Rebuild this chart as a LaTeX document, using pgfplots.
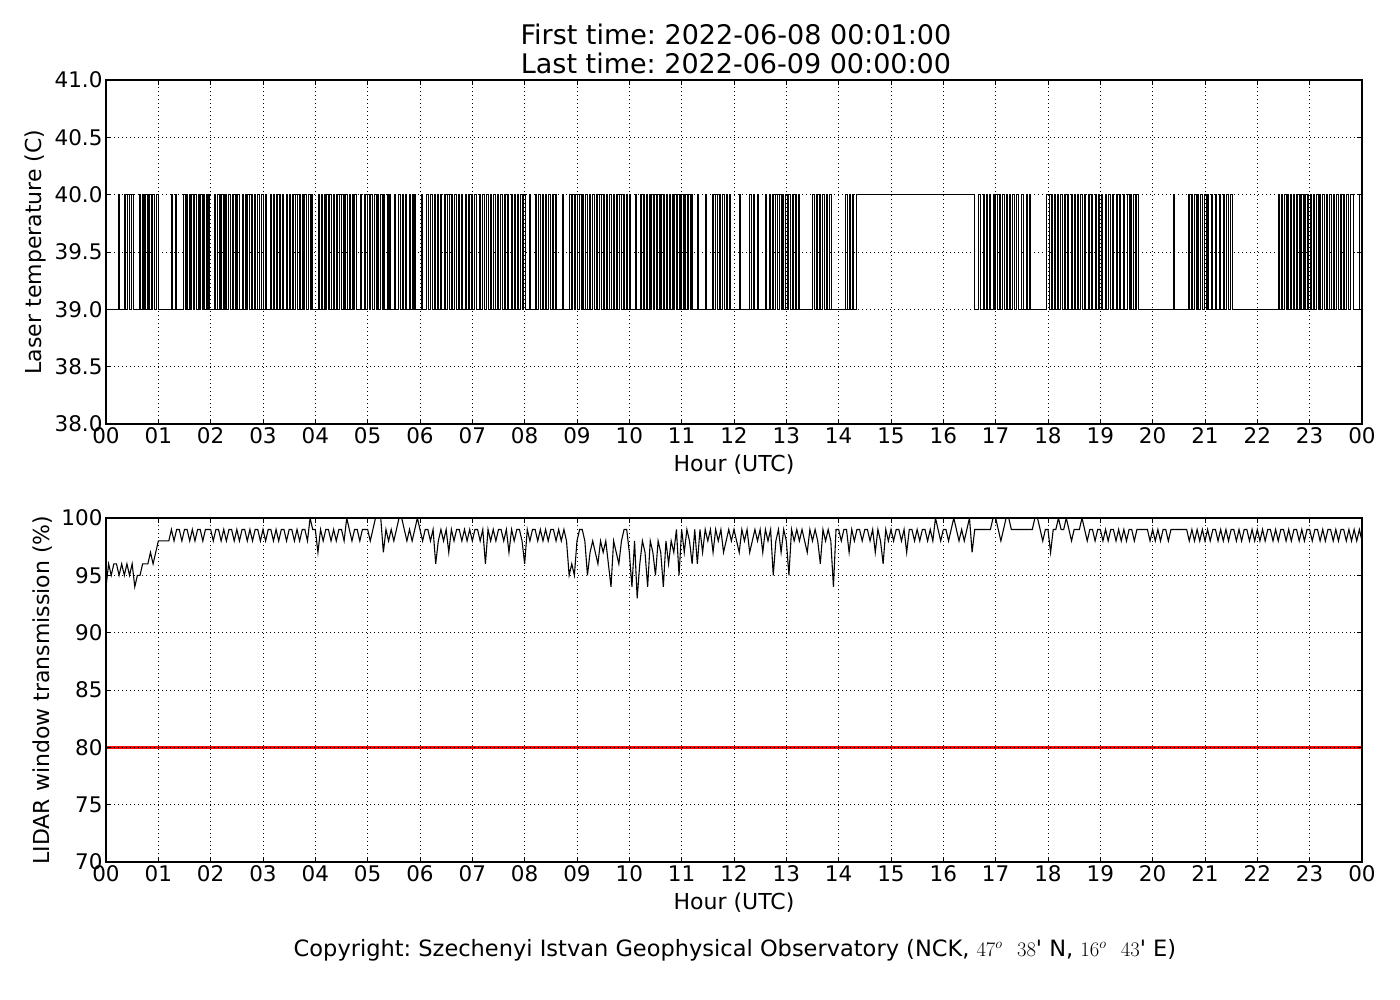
\documentclass[border=0pt]{standalone}
\usepackage[no-math]{fontspec}
\setmainfont{DejaVu Sans}
\usepackage{pgfplots}
\pgfplotsset{compat=1.18}
\frenchspacing

\pgfplotsset{
  panel/.style={
    scale only axis, width=1256bp, height=344bp,
    xmin=0, xmax=24,
    xtick={0,1,2,3,4,5,6,7,8,9,10,11,12,13,14,15,16,17,18,19,20,21,22,23,24},
    xticklabels={00,01,02,03,04,05,06,07,08,09,10,11,12,13,14,15,16,17,18,19,20,21,22,23,00},
    tick align=inside,
    major tick length=5bp,
    tick style={black, line width=0.9bp},
    axis line style={line width=1.2bp},
    grid=major,
    major grid style={black, line width=0.8bp, dash pattern=on 1bp off 3bp},
    tick label style={font=\fontsize{21.5bp}{25bp}\selectfont},
    label style={font=\fontsize{22bp}{26bp}\selectfont},
    xlabel={Hour (UTC)},
    xlabel style={at={(axis description cs:0.5,0)}, anchor=center, yshift=-41bp},
  }
}

\begin{document}
\begin{tikzpicture}
\path[use as bounding box] (0,0) rectangle (1400bp,-1000bp);

\node[font=\fontsize{27bp}{31bp}\selectfont] at (736bp,-34bp) {First time: 2022-06-08 00:01:00};
\node[font=\fontsize{27bp}{31bp}\selectfont] at (736bp,-63bp) {Last time: 2022-06-09 00:00:00};

\begin{axis}[panel,
  at={(106bp,-424bp)}, anchor=south west,
  ymin=38, ymax=41,
  ytick={38,38.5,39,39.5,40,40.5,41},
  yticklabels={38.0,38.5,39.0,39.5,40.0,40.5,41.0},
  ylabel={Laser temperature (C)},
  ylabel style={at={(axis description cs:-0.0565,0.5)}, anchor=center},
]
\addplot[black, line width=1bp, const plot mark left] coordinates {
(0,39)
(0.235,40)(0.25,39)(0.35,40)(0.37,39)(0.42,40)(0.44,39)(0.49,40)(0.52,39)(0.64,40)(0.66,39)(0.69,40)(0.71,39)(0.74,40)(0.76,39)(0.79,40)(0.82,39)(0.84,40)(0.86,39)(0.89,40)(0.92,39)(0.96,40)(1.0,39)
(1.25,40)(1.27,39)(1.33,40)(1.35,39)(1.48,40)(1.51,39)(1.54,40)(1.56,39)(1.59,40)(1.61,39)(1.64,40)(1.68,39)(1.70,40)(1.72,39)(1.76,40)(1.78,39)(1.81,40)(1.84,39)(1.87,40)(1.89,39)(1.92,40)(1.94,39)(1.96,40)(1.98,39)
(2.08,40)(2.10,39)(2.14,40)(2.16,39)(2.18,40)(2.20,39)(2.24,40)(2.26,39)(2.29,40)(2.31,39)(2.34,40)(2.38,39)(2.42,40)(2.44,39)(2.47,40)(2.49,39)(2.52,40)(2.56,39)(2.60,40)(2.62,39)(2.66,40)(2.68,39)(2.71,40)(2.74,39)(2.78,40)(2.80,39)(2.84,40)(2.86,39)(2.89,40)(2.93,39)(2.97,40)(3.01,39)(3.04,40)(3.06,39)
(3.15,40)(3.17,39)(3.20,40)(3.22,39)(3.26,40)(3.28,39)(3.31,40)(3.34,39)(3.38,40)(3.40,39)(3.44,40)(3.46,39)(3.50,40)(3.53,39)(3.56,40)(3.58,39)(3.62,40)(3.65,39)(3.69,40)(3.71,39)(3.75,40)(3.77,39)(3.80,40)(3.83,39)(3.87,40)(3.90,39)(3.92,40)(3.95,39)
(4.06,40)(4.08,39)(4.11,40)(4.13,39)(4.17,40)(4.19,39)(4.22,40)(4.25,39)(4.28,40)(4.30,39)(4.34,40)(4.37,39)(4.41,40)(4.43,39)(4.47,40)(4.50,39)(4.53,40)(4.55,39)(4.58,40)(4.61,39)(4.65,40)(4.67,39)(4.71,40)(4.73,39)(4.75,40)(4.78,39)(4.86,40)(4.88,39)(4.93,40)(4.96,39)
(5.00,40)(5.03,39)(5.06,40)(5.09,39)(5.13,40)(5.16,39)(5.19,40)(5.21,39)(5.25,40)(5.28,39)(5.31,40)(5.33,39)(5.37,40)(5.40,39)(5.42,40)(5.44,39)(5.52,40)(5.54,39)(5.59,40)(5.62,39)(5.66,40)(5.68,39)(5.72,40)(5.75,39)(5.79,40)(5.81,39)(5.85,40)(5.88,39)(5.90,40)(5.92,39)
(6.03,40)(6.05,39)(6.13,40)(6.16,39)(6.20,40)(6.23,39)(6.27,40)(6.29,39)(6.33,40)(6.36,39)(6.40,40)(6.42,39)(6.47,40)(6.49,39)(6.53,40)(6.56,39)(6.60,40)(6.62,39)(6.66,40)(6.69,39)(6.73,40)(6.76,39)(6.80,40)(6.82,39)(6.86,40)(6.89,39)(6.93,40)(6.95,39)(6.98,40)(7.01,39)
(7.05,40)(7.08,39)(7.14,40)(7.16,39)(7.20,40)(7.23,39)(7.27,40)(7.30,39)(7.35,40)(7.37,39)(7.41,40)(7.44,39)(7.48,40)(7.50,39)(7.54,40)(7.57,39)(7.61,40)(7.63,39)(7.67,40)(7.70,39)(7.74,40)(7.77,39)(7.80,40)(7.82,39)(7.86,40)(7.89,39)(7.93,40)(7.95,39)(7.98,40)(8.02,39)
(8.10,40)(8.12,39)(8.20,40)(8.23,39)(8.27,40)(8.30,39)(8.34,40)(8.36,39)(8.40,40)(8.42,39)(8.46,40)(8.49,39)(8.53,40)(8.55,39)(8.58,40)(8.61,39)(8.72,40)(8.74,39)(8.86,40)(8.89,39)(8.92,40)(8.95,39)(8.98,40)(9.01,39)
(9.05,40)(9.08,39)(9.11,40)(9.13,39)(9.17,40)(9.20,39)(9.24,40)(9.26,39)(9.30,40)(9.33,39)(9.37,40)(9.39,39)(9.43,40)(9.46,39)(9.50,40)(9.52,39)(9.56,40)(9.59,39)(9.63,40)(9.65,39)(9.69,40)(9.72,39)(9.76,40)(9.78,39)(9.82,40)(9.85,39)(9.88,40)(9.90,39)(9.94,40)(9.97,39)
(10.00,40)(10.03,39)(10.12,40)(10.14,39)(10.21,40)(10.24,39)(10.27,40)(10.29,39)(10.32,40)(10.35,39)(10.38,40)(10.40,39)(10.43,40)(10.46,39)(10.49,40)(10.51,39)(10.54,40)(10.57,39)(10.60,40)(10.62,39)(10.65,40)(10.68,39)(10.71,40)(10.73,39)(10.76,40)(10.79,39)(10.82,40)(10.84,39)(10.87,40)(10.90,39)(10.93,40)(10.95,39)(10.97,40)(11.00,39)
(11.03,40)(11.05,39)(11.08,40)(11.11,39)(11.14,40)(11.16,39)(11.19,40)(11.21,39)(11.30,40)(11.32,39)(11.45,40)(11.47,39)(11.58,40)(11.61,39)(11.65,40)(11.68,39)(11.72,40)(11.74,39)(11.78,40)(11.81,39)(11.85,40)(11.87,39)(11.91,40)(11.94,39)(12.10,40)(12.12,39)
(12.30,40)(12.33,39)(12.37,40)(12.40,39)(12.44,40)(12.46,39)(12.60,40)(12.63,39)(12.67,40)(12.70,39)(12.74,40)(12.76,39)(12.80,40)(12.83,39)(12.87,40)(12.90,39)(12.93,40)(12.95,39)(12.99,40)(13.02,39)
(13.05,40)(13.08,39)(13.11,40)(13.13,39)(13.17,40)(13.20,39)(13.23,40)(13.26,39)(13.50,40)(13.53,39)(13.57,40)(13.60,39)(13.63,40)(13.66,39)(13.70,40)(13.72,39)(13.76,40)(13.79,39)(13.83,40)(13.86,39)(14.13,40)(14.16,39)(14.20,40)(14.23,39)(14.27,40)(14.29,39)
(14.34,40)(16.60,39)
(16.68,40)(16.71,39)(16.76,40)(16.79,39)(16.83,40)(16.85,39)(16.88,40)(16.91,39)(16.95,40)(16.97,39)(17.00,40)(17.03,39)(17.07,40)(17.09,39)(17.13,40)(17.16,39)(17.20,40)(17.22,39)(17.26,40)(17.28,39)(17.33,40)(17.36,39)(17.40,40)(17.43,39)(17.50,40)(17.53,39)(17.58,40)(17.60,39)(17.64,40)(17.67,39)
(17.98,40)(18.02,39)(18.06,40)(18.08,39)(18.12,40)(18.15,39)(18.18,40)(18.20,39)(18.24,40)(18.27,39)(18.31,40)(18.33,39)(18.37,40)(18.40,39)(18.44,40)(18.46,39)(18.50,40)(18.53,39)(18.57,40)(18.59,39)(18.63,40)(18.66,39)(18.70,40)(18.72,39)(18.77,40)(18.79,39)(18.83,40)(18.86,39)(18.90,40)(18.92,39)(18.96,40)(18.99,39)
(19.03,40)(19.05,39)(19.10,40)(19.12,39)(19.16,40)(19.19,39)(19.23,40)(19.25,39)(19.30,40)(19.32,39)(19.36,40)(19.39,39)(19.45,40)(19.47,39)(19.52,40)(19.55,39)(19.58,40)(19.60,39)(19.64,40)(19.67,39)(19.70,40)(19.73,39)
(20.40,40)(20.42,39)
(20.68,40)(20.71,39)(20.74,40)(20.76,39)(20.80,40)(20.83,39)(20.86,40)(20.88,39)(20.92,40)(20.95,39)(20.99,40)(21.02,39)(21.05,40)(21.07,39)(21.12,40)(21.15,39)(21.20,40)(21.22,39)(21.27,40)(21.30,39)(21.35,40)(21.37,39)(21.42,40)(21.45,39)(21.49,40)(21.52,39)
(22.40,40)(22.43,39)(22.46,40)(22.48,39)(22.52,40)(22.55,39)(22.58,40)(22.60,39)(22.63,40)(22.66,39)(22.69,40)(22.71,39)(22.74,40)(22.77,39)(22.80,40)(22.82,39)(22.85,40)(22.88,39)(22.90,40)(22.93,39)(22.96,40)(22.98,39)(23.01,40)(23.04,39)(23.07,40)(23.09,39)(23.13,40)(23.16,39)(23.19,40)(23.21,39)(23.25,40)(23.28,39)(23.32,40)(23.34,39)(23.38,40)(23.41,39)(23.45,40)(23.47,39)(23.52,40)(23.55,39)(23.58,40)(23.60,39)(23.64,40)(23.67,39)(23.71,40)(23.74,39)(23.78,40)(23.83,39)
(23.95,40)(24.0,40)
};
\end{axis}

\begin{axis}[panel,
  at={(106bp,-862bp)}, anchor=south west,
  axis on top,
  ymin=70, ymax=100,
  ytick={70,75,80,85,90,95,100},
  yticklabels={70,75,80,85,90,95,100},
  ylabel={LIDAR window transmission (\%)},
  ylabel style={at={(axis description cs:-0.0502,0.5)}, anchor=center},
]
\addplot[red, line width=3bp] coordinates {(0,80)(24,80)};
\addplot[black, line width=1.1bp] table[x expr=\coordindex/20, y index=0, header=false, row sep=\\] {
94\\96\\95\\96\\96\\95\\96\\95\\96\\95\\96\\94\\95\\95\\96\\96\\96\\97\\96\\97\\
98\\98\\98\\98\\98\\99\\98\\99\\99\\98\\99\\99\\98\\99\\98\\99\\99\\98\\99\\99\\
99\\98\\99\\99\\98\\99\\98\\99\\99\\98\\99\\98\\99\\99\\98\\99\\98\\99\\99\\98\\
99\\98\\99\\99\\98\\99\\98\\99\\99\\98\\99\\99\\98\\99\\98\\99\\99\\98\\100\\99\\
99\\97\\99\\98\\99\\99\\98\\99\\98\\99\\99\\98\\100\\99\\98\\99\\99\\98\\99\\99\\
99\\98\\99\\100\\100\\100\\97\\99\\98\\99\\98\\99\\100\\100\\99\\98\\99\\98\\99\\100\\
99\\98\\99\\99\\98\\99\\96\\98\\99\\98\\99\\97\\99\\98\\99\\99\\98\\99\\98\\99\\
98\\99\\99\\98\\99\\96\\99\\98\\99\\98\\99\\99\\98\\99\\97\\99\\98\\99\\99\\98\\
96\\99\\98\\99\\99\\98\\99\\98\\99\\98\\99\\99\\98\\99\\98\\99\\98\\95\\96\\95\\
98\\99\\99\\98\\95\\97\\98\\97\\96\\98\\97\\98\\96\\94\\98\\97\\96\\98\\99\\99\\
97\\94\\98\\93\\96\\98\\97\\94\\98\\97\\95\\98\\97\\94\\98\\96\\98\\97\\99\\95\\
99\\97\\99\\98\\96\\99\\96\\99\\97\\99\\98\\99\\97\\99\\98\\99\\97\\98\\99\\98\\
99\\98\\97\\99\\98\\99\\97\\98\\99\\98\\99\\97\\99\\98\\99\\95\\98\\99\\97\\99\\
98\\95\\99\\98\\99\\98\\99\\98\\97\\99\\98\\99\\98\\96\\99\\98\\99\\98\\94\\99\\
99\\98\\99\\99\\97\\99\\98\\99\\99\\98\\99\\99\\98\\99\\97\\99\\98\\96\\99\\98\\
99\\98\\99\\99\\98\\99\\97\\99\\99\\98\\99\\98\\99\\99\\98\\99\\98\\100\\99\\98\\
99\\99\\98\\99\\100\\99\\98\\99\\98\\99\\100\\97\\99\\99\\99\\99\\99\\99\\99\\100\\
100\\99\\98\\99\\100\\100\\99\\99\\99\\99\\99\\99\\99\\99\\99\\100\\100\\99\\98\\99\\
99\\97\\99\\99\\100\\99\\99\\100\\99\\98\\99\\99\\99\\100\\99\\98\\99\\99\\98\\99\\
99\\98\\99\\98\\99\\99\\98\\99\\98\\99\\98\\99\\99\\98\\99\\99\\99\\99\\99\\98\\
99\\98\\99\\98\\99\\99\\98\\99\\99\\99\\99\\99\\99\\99\\98\\99\\98\\99\\98\\99\\
98\\99\\98\\99\\99\\98\\99\\98\\99\\98\\99\\99\\98\\99\\98\\99\\99\\98\\99\\98\\
99\\98\\99\\98\\99\\99\\98\\99\\98\\99\\99\\98\\99\\98\\99\\99\\98\\99\\98\\99\\
99\\98\\99\\99\\98\\99\\98\\99\\99\\98\\99\\98\\99\\99\\98\\99\\98\\99\\98\\99\\
98\\
};
\end{axis}

\node[font=\fontsize{22.5bp}{26bp}\selectfont] at (735bp,-950bp) {Copyright: Szechenyi Istvan Geophysical Observatory (NCK, $47^{o}$\ \ $38$\textquotesingle{} N, $16^{o}$\ \ $43$\textquotesingle{} E)};
\end{tikzpicture}
\end{document}
